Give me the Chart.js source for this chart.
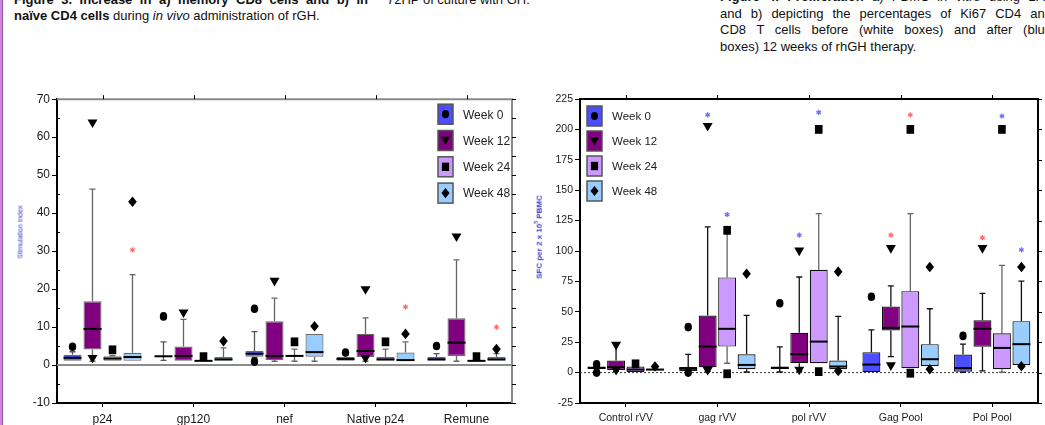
<!DOCTYPE html>
<html>
<head>
<meta charset="utf-8">
<script src="https://cdn.jsdelivr.net/npm/chart.js@4.4.1/dist/chart.umd.min.js"></script>
<style>
  html, body { margin: 0; padding: 0; background: #fff; }
  body { width: 1045px; height: 425px; position: relative; overflow: hidden;
         font-family: "Liberation Sans", Arial, sans-serif; color: #111; }
  .edge { position: absolute; left: 0; top: 0; width: 2px; height: 425px; background: #c98bd6; border-right: 1px solid #9c52ad; }
  .txt { position: absolute; font-size: 13px; line-height: 16px; white-space: nowrap; }
  .txt div { white-space: normal; }
  .j { text-align: justify; text-align-last: justify; }
  .wrap { position: absolute; top: 90px; width: 520px; height: 335px; }
  canvas { display: block; }
  .ytitle { position: absolute; color: #3838c8; white-space: nowrap; transform: translate(-50%, -50%) rotate(-90deg); }
</style>
</head>
<body>
<div class="edge"></div>

<div class="txt" style="left:14px;top:-8px;width:354px;">
  <div class="j"><b>Figure 3. Increase in a) memory CD8 cells and b) in</b></div>
  <div><b>naïve CD4 cells</b> during <i>in vivo</i> administration of rGH.</div>
</div>
<div class="txt" style="left:387px;top:-8px;width:175px;">
  <div>72HP of culture with GH.</div>
</div>
<div class="txt" style="left:720px;top:-11px;width:332px;line-height:16.5px;">
  <div class="j"><b>Figure 4. Proliferation</b> a) PBMC <i>in vitro</i> using LPA</div>
  <div class="j">and b) depicting the percentages of Ki67 CD4 and</div>
  <div class="j">CD8 T cells before (white boxes) and after (blue</div>
  <div>boxes) 12 weeks of rhGH therapy.</div>
</div>

<div class="wrap" style="left:0px;"><canvas id="stim" width="520" height="335"></canvas></div>
<div class="wrap" style="left:525px;"><canvas id="sfc" width="520" height="335"></canvas></div>

<div class="ytitle" style="left:20px;top:232px;font-size:7px;">Stimulation index</div>
<div class="ytitle" style="left:538px;top:237px;font-size:8px;font-weight:bold;">SFC per 2 x 10<sup style="font-size:5px;">5</sup> PBMC</div>

<script>
// ---- data ----
const weekLabels = ['Week 0', 'Week 12', 'Week 24', 'Week 48'];

// left panel: stimulation index
const stimCats = ['p24', 'gp120', 'nef', 'Native p24', 'Remune'];
// each entry: [whisker low, q1, median, q3, whisker high]
const stimWeek0  = [[1, 1.1, 1.9, 2.7, 3.5], [1.2, 2.3, 2.3, 2.3, 6.1], [2, 2.2, 3, 3.7, 8.8], [1, 1.1, 1.6, 2.1, 2.6], [1, 1.1, 1.5, 2.1, 3]];
const stimWeek12 = [[1, 4.1, 9.5, 16.8, 46.3], [1, 1.1, 2.4, 4.9, 12], [1, 1.3, 2.4, 11.5, 17.6], [1, 2.1, 3.7, 8.2, 12.4], [1, 2.4, 5.9, 12.3, 27.7]];
const stimWeek24 = [[1, 1.1, 1.7, 2.3, 2.5], [1, 1, 1.1, 1.3, 1.5], [1, 2.4, 2.4, 2.4, 4.2], [1, 1.1, 1.5, 2.1, 4.2], [1, 1, 1.1, 1.3, 1.5]];
const stimWeek48 = [[1, 1.1, 2.1, 3.2, 23.8], [1, 1.1, 1.5, 2.1, 4.5], [1, 2.2, 3.4, 8.2, 8.2], [1, 1.1, 1.3, 3.3, 6.1], [1, 1.1, 1.5, 2.1, 3]];
// extreme values (outside whiskers)
const stimWeek0Out  = [[4.8], [12.8], [14.8, 0.9], [3.3], [5]];
const stimWeek12Out = [[63.6, 1.6], [13.6], [21.9], [19.7, 1.6], [33.6]];
const stimWeek24Out = [[4], [2.2], [6.1], [6.1], [2.2]];
const stimWeek48Out = [[43], [6.3], [10.2], [8.2], [4.2]];
const stimRedStars48 = [30.3, null, null, 15.3, 10];

// right panel: SFC per 2 x 10^5 PBMC
const sfcCats = ['Control rVV', 'gag rVV', 'pol rVV', 'Gag Pool', 'Pol Pool'];
const sfcWeek0  = [[0.5, 3, 4, 4.5, 5], [0.5, 1.4, 3.3, 4.7, 15], [0.5, 3, 4, 4.5, 21.2], [0, 0, 6.6, 16.8, 35.2], [0.3, 0.8, 3.8, 14.8, 23.4]];
const sfcWeek12 = [[1, 2.2, 4.5, 9.9, 24.2], [1, 4.4, 21.4, 47, 119.8], [1, 7.7, 15.1, 32.7, 78.6], [13.2, 34.6, 36.8, 54.4, 71.4], [1.4, 21.2, 36, 43.1, 65.1]];
const sfcWeek24 = [[0.3, 0.5, 2.5, 5, 5], [7.7, 21.4, 36, 78.3, 117], [7.7, 7.7, 25.5, 84.6, 130.8], [3.6, 3.6, 37.9, 67, 130.8], [0.3, 2.7, 20.3, 32.4, 88.2]];
const sfcWeek48 = [[2, 2, 2.5, 3, 3], [0.5, 2.7, 6.3, 15.1, 47], [1, 2.7, 5, 9.9, 46.2], [5.5, 5.5, 11, 23.4, 52.5], [6, 6.3, 23.4, 42.3, 75.3]];
const sfcWeek0Out  = [[6.8, 0], [37.4, 0], [57], [62.4], [30.2]];
const sfcWeek12Out = [[22, 1.4], [202, 1.4], [99.5, 1.6], [101.6, 5.2], [101.6]];
const sfcWeek24Out = [[7.2], [117, -1], [200, 0.8], [200, -0.5], [200]];
const sfcWeek48Out = [[5], [81.3], [83, 1.4], [86.8, 2.7], [86.8, 5.2]];
const sfcBlueStars12 = [null, 212, 113, null, null];
const sfcRedStars12  = [null, null, null, 113, 111];
const sfcBlueStars24 = [null, 130, 214, null, 211];
const sfcRedStars24  = [null, null, null, 212, null];
const sfcBlueStars48 = [null, null, null, null, 101];

// ---- styling ----
const weekColors = ['#4d4dff', '#800080', '#cc99ff', '#99ccff'];
const weekShapes = ['circle', 'triDown', 'square', 'diamond'];
const RED = '#ff6b6b', BLUE = '#6b6bff';
Chart.defaults.font.family = "'Liberation Sans', Arial, sans-serif";

function drawMark(ctx, shape, x, y, k) {
  ctx.beginPath();
  if (shape === 'circle') {
    ctx.ellipse(x, y, 3.7 * k, 4.3 * k, 0, 0, Math.PI * 2);
  } else if (shape === 'triDown') {
    ctx.moveTo(x - 5 * k, y - 4 * k); ctx.lineTo(x + 5 * k, y - 4 * k); ctx.lineTo(x, y + 4.6 * k); ctx.closePath();
  } else if (shape === 'square') {
    ctx.rect(x - 3.8 * k, y - 4.4 * k, 7.6 * k, 8.8 * k);
  } else {
    ctx.moveTo(x, y - 5.3 * k); ctx.lineTo(x + 4.3 * k, y); ctx.lineTo(x, y + 5.3 * k); ctx.lineTo(x - 4.3 * k, y); ctx.closePath();
  }
  ctx.fillStyle = '#000';
  ctx.fill();
}

function drawStar(ctx, x, y, color) {
  ctx.save();
  ctx.strokeStyle = color;
  ctx.lineWidth = 1.3;
  for (let a = 0; a < 3; a++) {
    const t = a * Math.PI / 3 + Math.PI / 2;
    ctx.beginPath();
    ctx.moveTo(x - Math.cos(t) * 2.6, y - Math.sin(t) * 2.6);
    ctx.lineTo(x + Math.cos(t) * 2.6, y + Math.sin(t) * 2.6);
    ctx.stroke();
  }
  ctx.restore();
}

const boxPlot = {
  id: 'boxPlot',
  beforeDatasetsDraw(chart) {
    const o = chart.options.plugins.boxPlot;
    const { ctx, chartArea: ca } = chart;
    const y = chart.scales.y;
    ctx.save();
    // zero line
    const y0 = y.getPixelForValue(0);
    ctx.beginPath();
    ctx.strokeStyle = o.zeroColor;
    ctx.lineWidth = o.zeroWidth;
    ctx.setLineDash(o.zeroDash);
    ctx.moveTo(ca.left, y0);
    ctx.lineTo(ca.right, y0);
    ctx.stroke();
    ctx.setLineDash([]);
    // whiskers
    o.series.forEach((s, i) => {
      chart.getDatasetMeta(i).data.forEach((bar, j) => {
        const st = s.stats[j];
        const x = bar.x;
        ctx.strokeStyle = o.whisker[i];
        ctx.lineWidth = 1.3;
        const seg = (from, to) => {
          const a = y.getPixelForValue(from), b = y.getPixelForValue(to);
          if (Math.abs(a - b) < 0.5) return;
          ctx.beginPath();
          ctx.moveTo(x, a); ctx.lineTo(x, b);
          ctx.moveTo(x - 3, b); ctx.lineTo(x + 3, b);
          ctx.stroke();
        };
        seg(st[3], st[4]);
        seg(st[1], st[0]);
      });
    });
    ctx.restore();
  },
  afterDatasetsDraw(chart) {
    const o = chart.options.plugins.boxPlot;
    const { ctx } = chart;
    const y = chart.scales.y;
    ctx.save();
    o.series.forEach((s, i) => {
      chart.getDatasetMeta(i).data.forEach((bar, j) => {
        const st = s.stats[j];
        const x = bar.x, hw = bar.width / 2;
        const ym = y.getPixelForValue(st[2]);
        ctx.beginPath();
        ctx.strokeStyle = '#000';
        ctx.lineWidth = 2;
        ctx.moveTo(x - hw, ym); ctx.lineTo(x + hw, ym);
        ctx.stroke();
        s.out[j].forEach(v => drawMark(ctx, weekShapes[i], x, y.getPixelForValue(v), 1));
        if (s.red && s.red[j] != null) drawStar(ctx, x, y.getPixelForValue(s.red[j]), RED);
        if (s.blue && s.blue[j] != null) drawStar(ctx, x, y.getPixelForValue(s.blue[j]), BLUE);
      });
    });
    ctx.restore();
  },
  afterDraw(chart) {
    const o = chart.options.plugins.boxPlot;
    const { ctx, chartArea: ca } = chart;
    const y = chart.scales.y, xs = chart.scales.x;
    ctx.save();
    // top and right frame
    ctx.strokeStyle = o.frameColor;
    ctx.lineWidth = 2;
    ctx.beginPath();
    ctx.moveTo(ca.left, ca.top); ctx.lineTo(ca.right, ca.top); ctx.lineTo(ca.right, ca.bottom);
    ctx.stroke();
    ctx.strokeStyle = '#000';
    ctx.lineWidth = 1;
    ctx.beginPath();
    xs.ticks.forEach((t, i) => {
      const px = Math.round(xs.getPixelForTick(i)) + 0.5;
      ctx.moveTo(px, ca.top); ctx.lineTo(px, ca.top - 4);
    });
    for (let v = y.min; v <= y.max; v += o.rightStep) {
      const py = Math.round(y.getPixelForValue(v)) + 0.5;
      ctx.moveTo(ca.right, py); ctx.lineTo(ca.right + 4, py);
    }
    if (o.minorStep) {
      for (let v = y.min + o.minorStep; v < y.max; v += 2 * o.minorStep) {
        const py = Math.round(y.getPixelForValue(v)) + 0.5;
        ctx.moveTo(ca.left, py); ctx.lineTo(ca.left + 3, py);
      }
    }
    ctx.stroke();
    // legend
    const L = o.legend;
    const bx = L.fromRight ? ca.right - L.inset - 15 : ca.left + L.inset;
    weekLabels.forEach((lab, i) => {
      const cy = ca.top + L.first + i * L.gap;
      ctx.fillStyle = weekColors[i];
      ctx.fillRect(bx, cy - 10, 15, 20);
      ctx.strokeStyle = '#555';
      ctx.lineWidth = 1.5;
      ctx.strokeRect(bx, cy - 10, 15, 20);
      drawMark(ctx, weekShapes[i], bx + 7.5, cy, 0.95);
      ctx.fillStyle = '#222';
      ctx.font = L.font + " 'Liberation Sans', Arial, sans-serif";
      ctx.textAlign = 'left';
      ctx.textBaseline = 'middle';
      ctx.fillText(lab, bx + 25, cy + 1);
    });
    ctx.restore();
  }
};

function buildChart(id, cats, series, cfg) {
  return new Chart(document.getElementById(id), {
    type: 'bar',
    data: {
      labels: cats,
      datasets: series.map((s, i) => ({
        label: weekLabels[i],
        data: s.stats.map(st => [st[1], st[3]]),
        backgroundColor: weekColors[i],
        borderColor: cfg.boxEdge,
        borderWidth: 1.2,
        borderSkipped: false,
        categoryPercentage: cfg.catPct,
        barPercentage: cfg.barPct
      }))
    },
    options: {
      responsive: false,
      animation: false,
      layout: { padding: { left: 0, top: 9, right: cfg.padRight, bottom: 0 } },
      plugins: {
        legend: { display: false },
        tooltip: { enabled: false },
        boxPlot: {
          series: series,
          whisker: cfg.whisker,
          zeroColor: cfg.zeroColor, zeroWidth: cfg.zeroWidth, zeroDash: cfg.zeroDash,
          frameColor: cfg.frameColor,
          rightStep: cfg.rightStep,
          minorStep: cfg.minorStep,
          legend: cfg.legend
        }
      },
      scales: {
        x: {
          afterFit: s => { s.height = 22; },
          grid: { display: true, drawOnChartArea: false, drawTicks: true, tickLength: 4, offset: false, color: '#000' },
          border: { display: true, color: '#000', width: 2 },
          ticks: { color: '#1a1a1a', font: { size: cfg.fontSize }, padding: 5, maxRotation: 0, autoSkip: false }
        },
        y: {
          min: cfg.yMin, max: cfg.yMax,
          afterFit: s => { s.width = cfg.yWidth; },
          grid: { display: true, drawOnChartArea: false, drawTicks: true, tickLength: 5, color: '#000' },
          border: { display: true, color: '#000', width: 2 },
          ticks: { stepSize: cfg.yStep, color: '#1a1a1a', font: { size: cfg.fontSize }, padding: 2 }
        }
      }
    },
    plugins: [boxPlot]
  });
}

buildChart('stim', stimCats, [
  { stats: stimWeek0, out: stimWeek0Out },
  { stats: stimWeek12, out: stimWeek12Out },
  { stats: stimWeek24, out: stimWeek24Out },
  { stats: stimWeek48, out: stimWeek48Out, red: stimRedStars48 }
], {
  catPct: 0.879, barPct: 0.9, padRight: 8, yWidth: 57,
  yMin: -10, yMax: 70, yStep: 10, fontSize: 12,
  boxEdge: '#6a6a6a', whisker: ['#555', '#666', '#666', '#666'],
  zeroColor: '#8c8c8c', zeroWidth: 2, zeroDash: [],
  frameColor: '#8a8a8a', rightStep: 5, minorStep: 5,
  legend: { fromRight: true, inset: 59, first: 15, gap: 26.3, font: '12px' }
});

buildChart('sfc', sfcCats, [
  { stats: sfcWeek0, out: sfcWeek0Out },
  { stats: sfcWeek12, out: sfcWeek12Out, red: sfcRedStars12, blue: sfcBlueStars12 },
  { stats: sfcWeek24, out: sfcWeek24Out, red: sfcRedStars24, blue: sfcBlueStars24 },
  { stats: sfcWeek48, out: sfcWeek48Out, blue: sfcBlueStars48 }
], {
  catPct: 0.85, barPct: 0.92, padRight: 7, yWidth: 55,
  yMin: -25, yMax: 225, yStep: 25, fontSize: 10.5,
  boxEdge: '#111', whisker: ['#111', '#111', '#666', '#111'],
  zeroColor: '#333', zeroWidth: 1, zeroDash: [2, 2],
  frameColor: '#000', rightStep: 25, minorStep: 0,
  legend: { fromRight: false, inset: 7, first: 17, gap: 25, font: '11.5px' }
});
</script>
</body>
</html>
